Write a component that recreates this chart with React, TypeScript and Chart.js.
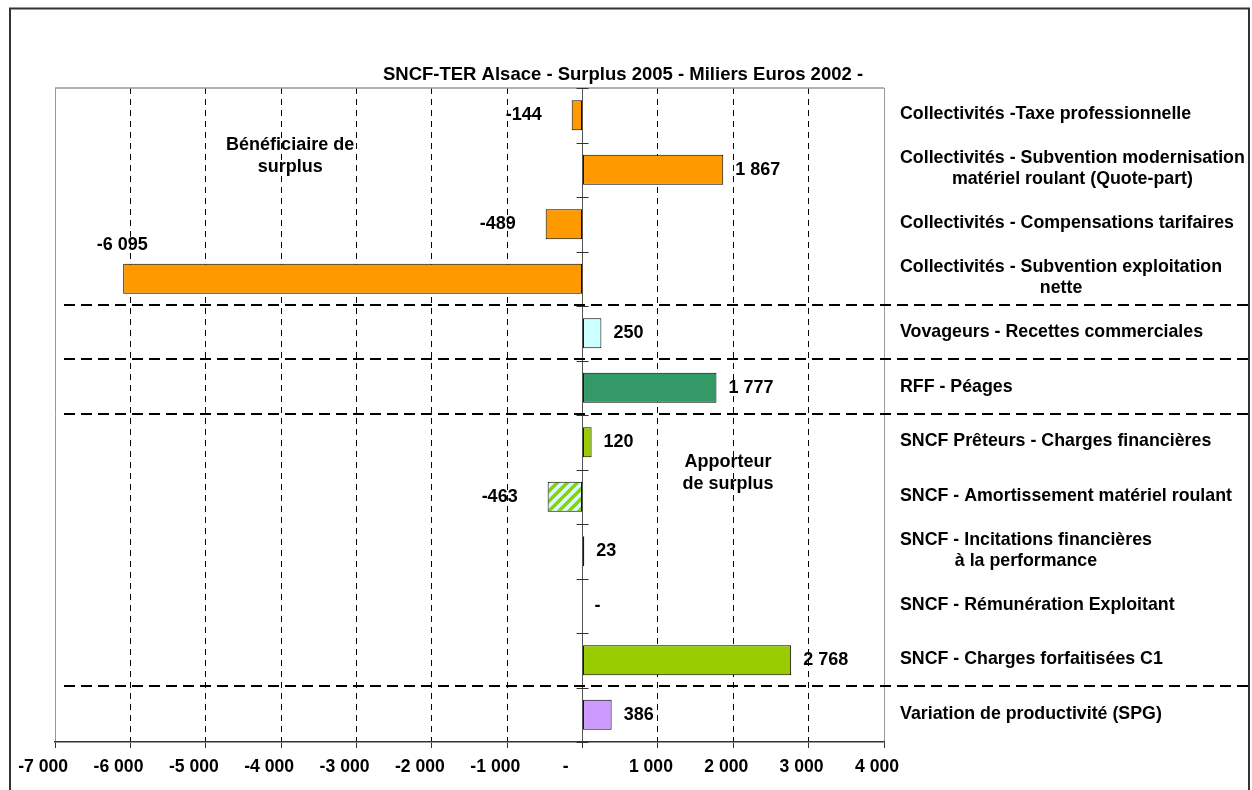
import { useEffect, useRef } from "react";
import { Chart, registerables } from "chart.js";

Chart.register(...registerables);

// ---------- data ----------
const chartTitle = "SNCF-TER Alsace - Surplus 2005 - Miliers Euros 2002 -";

const categories: string[][] = [
  ["Collectivités -Taxe professionnelle"],
  ["Collectivités - Subvention modernisation", "matériel roulant (Quote-part)"],
  ["Collectivités - Compensations tarifaires"],
  ["Collectivités - Subvention exploitation", "nette"],
  ["Vovageurs - Recettes commerciales"],
  ["RFF - Péages"],
  ["SNCF Prêteurs - Charges financières"],
  ["SNCF - Amortissement matériel roulant"],
  ["SNCF - Incitations financières", "à la performance"],
  ["SNCF - Rémunération Exploitant"],
  ["SNCF - Charges forfaitisées C1"],
  ["Variation de productivité (SPG)"],
];

const values: number[] = [-144, 1867, -489, -6095, 250, 1777, 120, -463, 23, 0, 2768, 386];

const xTickValues: number[] = [-7000, -6000, -5000, -4000, -3000, -2000, -1000, 0, 1000, 2000, 3000, 4000];

// groups separated by dashed lines: separator after these category counts
const groupBreaks: number[] = [4, 5, 6, 11];

const noteTexts: string[][] = [
  ["Bénéficiaire de", "surplus"],
  ["Apporteur", "de surplus"],
];

// ---------- styles ----------
const FAMILY = '"Liberation Sans", Arial, Helvetica, sans-serif';
const barColors = [
  "#FF9900", "#FF9900", "#FF9900", "#FF9900",
  "#CCFFFF", "#339966", "#99CC00", "HATCH",
  "#99CC00", "#99CC00", "#99CC00", "#CC99FF",
];
// note anchors in data units (x value, category index)
const noteAnchors = [
  { x: -3880, y: 0.55 },
  { x: 1930, y: 6.37 },
];

function fmt(v: number): string {
  if (v === 0) return "-";
  const s = Math.abs(Math.round(v)).toString().replace(/\B(?=(\d{3})+(?!\d))/g, " ");
  return (v < 0 ? "-" : "") + s;
}

function makeHatch(): CanvasPattern | string {
  const c = document.createElement("canvas");
  c.width = 10;
  c.height = 10;
  const g = c.getContext("2d");
  if (!g) return "#CCFFFF";
  g.fillStyle = "#CCFFFF";
  g.fillRect(0, 0, 10, 10);
  g.strokeStyle = "#99CC00";
  g.lineWidth = 3.4;
  g.beginPath();
  g.moveTo(-5, 5); g.lineTo(5, -5);
  g.moveTo(0, 10); g.lineTo(10, 0);
  g.moveTo(5, 15); g.lineTo(15, 5);
  g.stroke();
  const p = g.createPattern(c, "repeat");
  return p || "#CCFFFF";
}

const decorPlugin = {
  id: "decor",
  afterDraw(chart: any) {
    const ctx: CanvasRenderingContext2D = chart.ctx;
    const area = chart.chartArea;
    const xs = chart.scales.x;
    const ys = chart.scales.y;
    const zero = xs.getPixelForValue(0);
    const band = ys.getPixelForValue(1) - ys.getPixelForValue(0);

    ctx.save();

    // outer frame
    ctx.strokeStyle = "#333";
    ctx.lineWidth = 2;
    ctx.strokeRect(10, 8.5, 1239, 800);

    // title
    ctx.fillStyle = "#000";
    ctx.font = `bold 18.5px ${FAMILY}`;
    ctx.textAlign = "center";
    ctx.textBaseline = "middle";
    ctx.fillText(chartTitle, 623, 75);

    // plot top border
    ctx.strokeStyle = "#999";
    ctx.lineWidth = 1.5;
    ctx.beginPath();
    ctx.moveTo(area.left, area.top);
    ctx.lineTo(area.right, area.top);
    ctx.stroke();

    // category ticks on the zero axis
    ctx.strokeStyle = "#333";
    ctx.lineWidth = 1;
    for (let k = 0; k <= categories.length; k++) {
      const y = Math.round(ys.getPixelForValue(0) - band / 2 + k * band) + 0.5;
      ctx.beginPath();
      ctx.moveTo(zero - 6, y);
      ctx.lineTo(zero + 6, y);
      ctx.stroke();
    }

    // group separators
    ctx.strokeStyle = "#000";
    ctx.lineWidth = 2;
    ctx.setLineDash([11, 6]);
    groupBreaks.forEach((k) => {
      const y = Math.round((ys.getPixelForValue(k - 1) + ys.getPixelForValue(k)) / 2 - 1.5);
      ctx.beginPath();
      ctx.moveTo(64, y);
      ctx.lineTo(1252, y);
      ctx.stroke();
    });
    ctx.setLineDash([]);

    // category labels at right
    ctx.fillStyle = "#000";
    ctx.font = `bold 17.8px ${FAMILY}`;
    ctx.textBaseline = "middle";
    const labelLeft = area.right + 16;
    const lh = 21;
    categories.forEach((lines, i) => {
      const cy = ys.getPixelForValue(i) - 1;
      const widths = lines.map((l) => ctx.measureText(l).width);
      const w = Math.max(...widths);
      lines.forEach((l, j) => {
        const y = cy + (j - (lines.length - 1) / 2) * lh;
        if (lines.length === 1) {
          ctx.textAlign = "left";
          ctx.fillText(l, labelLeft, y);
        } else {
          ctx.textAlign = "center";
          ctx.fillText(l, labelLeft + w / 2, y);
        }
      });
    });

    // data labels
    ctx.font = `bold 18px ${FAMILY}`;
    values.forEach((v, i) => {
      const end = xs.getPixelForValue(v);
      const cy = ys.getPixelForValue(i);
      const t = fmt(v);
      if (v < -3000) {
        ctx.textAlign = "center";
        ctx.fillText(t, end - 1, cy - 34);
      } else if (v < 0) {
        ctx.textAlign = "right";
        ctx.fillText(t, end - 30, cy);
      } else {
        ctx.textAlign = "left";
        ctx.fillText(t, end + 12, cy);
      }
    });

    // notes
    ctx.font = `bold 18px ${FAMILY}`;
    ctx.textAlign = "center";
    noteTexts.forEach((lines, n) => {
      const a = noteAnchors[n];
      const x = xs.getPixelForValue(a.x);
      const y0 = ys.getPixelForValue(a.y);
      lines.forEach((l, j) => ctx.fillText(l, x, y0 + j * 21.5));
    });

    ctx.restore();
  },
};

export default function App() {
  const ref = useRef<HTMLCanvasElement | null>(null);

  useEffect(() => {
    if (!ref.current) return;
    const hatch = makeHatch();
    const colors = barColors.map((c) => (c === "HATCH" ? hatch : c));
    const edgeValues = [xTickValues[0], xTickValues[xTickValues.length - 1]];

    const chart = new Chart(ref.current, {
      type: "bar",
      data: {
        labels: categories.map((l) => l.join(" ")),
        datasets: [
          {
            data: values,
            backgroundColor: colors as any,
            borderColor: "#000",
            borderWidth: 1,
            borderSkipped: false,
            barPercentage: 0.55,
            categoryPercentage: 1,
          },
        ],
      },
      options: {
        indexAxis: "y",
        responsive: false,
        animation: false,
        layout: { padding: { left: 55, right: 368, top: 88, bottom: 0 } },
        plugins: {
          legend: { display: false },
          title: { display: false },
          tooltip: { enabled: false },
        },
        scales: {
          x: {
            type: "linear",
            min: -7000,
            max: 4000,
            afterFit: (s: any) => {
              s.height = 48;
            },
            afterBuildTicks: (s: any) => {
              s.ticks = xTickValues.map((v) => ({ value: v }));
            },
            ticks: {
              autoSkip: false,
              maxRotation: 0,
              padding: 9,
              labelOffset: -7,
              color: "#000",
              font: { family: FAMILY, size: 17.6, weight: "bold" },
              callback: (v: any) => {
                const n = Number(v);
                return fmt(n) + (n < 0 ? "  " : n === 0 ? "    " : "");
              },
            },
            grid: {
              color: (c: any) => {
                const v = c.tick ? c.tick.value : null;
                if (v === 0) return "#555";
                if (edgeValues.includes(v)) return "#999";
                return "#000";
              },
              lineWidth: 1,
              tickLength: 6,
              tickColor: "#333",
            },
            border: {
              display: true,
              color: "#333",
              width: 1.5,
              dash: (c: any) => {
                const v = c.tick ? c.tick.value : null;
                if (v === null || v === 0 || edgeValues.includes(v)) return [];
                return [6, 5];
              },
            },
          },
          y: {
            type: "category",
            display: false,
            offset: true,
          },
        },
      },
      plugins: [decorPlugin],
    });

    return () => chart.destroy();
  }, []);

  return (
    <div style={{ position: "absolute", left: 0, top: 0, width: 1252, height: 790, background: "#fff" }}>
      <canvas ref={ref} width={1252} height={790} style={{ display: "block" }} />
    </div>
  );
}
